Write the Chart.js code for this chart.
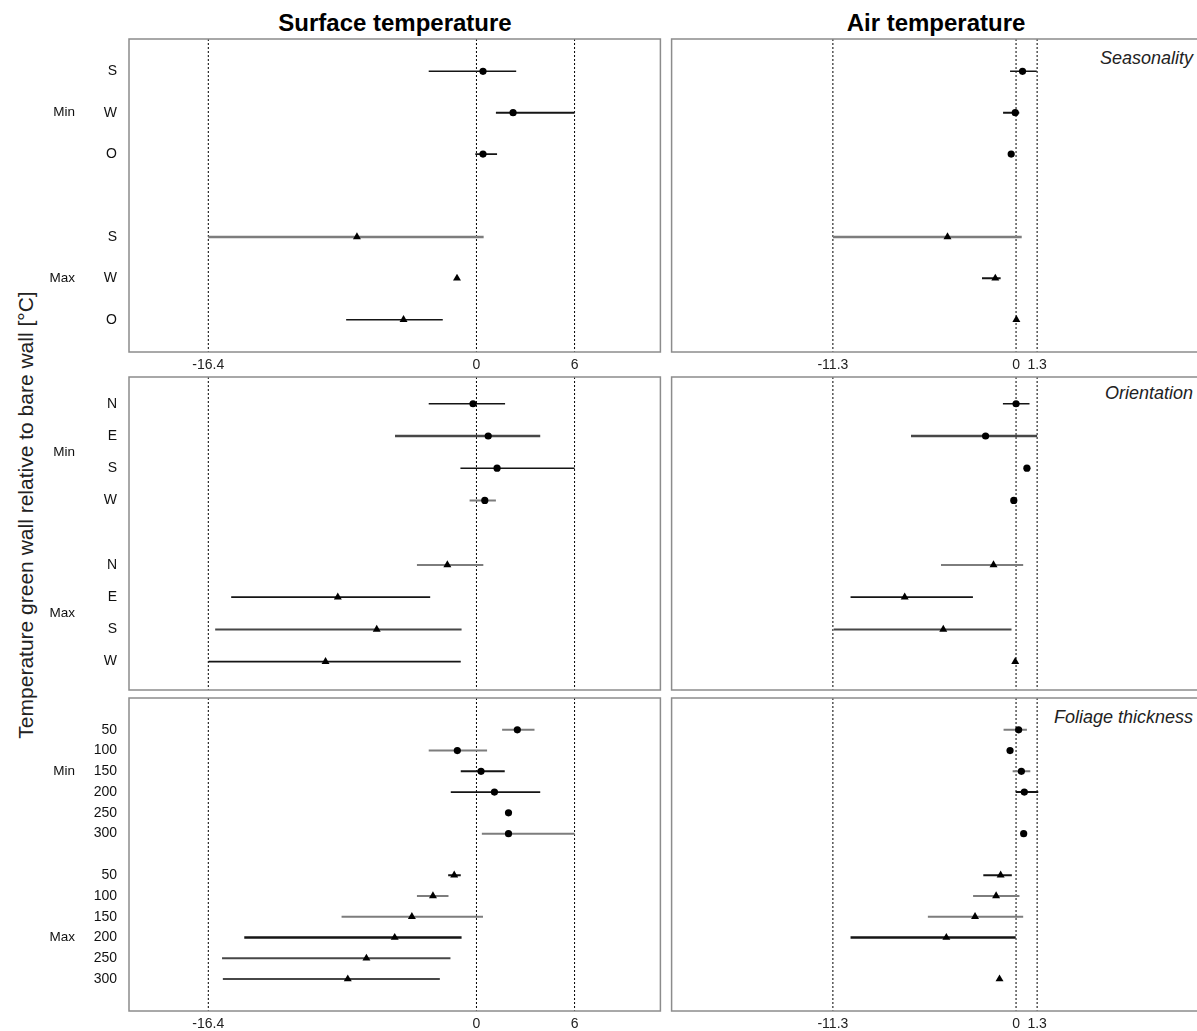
<!DOCTYPE html>
<html><head><meta charset="utf-8">
<script src="https://cdn.jsdelivr.net/npm/chart.js@4.4.0/dist/chart.umd.min.js"></script>
<style>
html,body{margin:0;padding:0;background:#fff;overflow:hidden;width:1197px;height:1031px;}
body{position:relative;font-family:"Liberation Sans",Arial,sans-serif;color:#111;}
canvas{position:absolute;}
.title{position:absolute;font-weight:bold;font-size:24px;line-height:24px;white-space:nowrap;transform:translateX(-50%);color:#000;}
.plab{position:absolute;font-style:italic;font-size:18px;line-height:18px;right:4px;white-space:nowrap;color:#222;}
.ytitle{position:absolute;font-size:21px;line-height:21px;white-space:nowrap;transform:translate(-50%,-50%) rotate(-90deg);color:#222;}
</style></head><body>
<div class="title" style="left:395px;top:11px">Surface temperature</div>
<div class="title" style="left:936px;top:11px">Air temperature</div>
<div class="ytitle" style="left:25px;top:515px">Temperature green wall relative to bare wall [°C]</div>
<div class="plab" style="top:49px">Seasonality</div>
<div class="plab" style="top:384px">Orientation</div>
<div class="plab" style="top:708px">Foliage thickness</div>
<canvas id="c1"></canvas><canvas id="c2"></canvas>
<canvas id="c3"></canvas><canvas id="c4"></canvas>
<canvas id="c5"></canvas><canvas id="c6"></canvas>
<script>
// ---------- data ----------
const groupLabels = ["Min", "Max"];
const surfRefs = [-16.4, 0, 6];
const airRefs = [-11.3, 0, 1.3];

// Seasonality
const seasonLabels = ["S", "W", "O", "S", "W", "O"];
const seasonRows = [1, 2, 3, 5, 6, 7];
const seasonGroupRows = [2, 6];
const surfSeasonEst = [0.40, 2.24, 0.40, -7.31, -1.19, -4.46];
const surfSeasonLo  = [-2.92, 1.19, -0.07, -16.4, null, -7.97];
const surfSeasonHi  = [2.43, 6.0, 1.26, 0.44, null, -2.06];
const airSeasonEst = [0.40, -0.05, -0.30, -4.23, -1.28, 0.02];
const airSeasonLo  = [-0.37, -0.80, null, -11.3, -2.10, null];
const airSeasonHi  = [1.28, 0.20, null, 0.35, -0.95, null];

// Orientation
const orientLabels = ["N", "E", "S", "W", "N", "E", "S", "W"];
const orientRows = [1, 2, 3, 4, 6, 7, 8, 9];
const orientGroupRows = [2.5, 7.5];
const surfOrientEst = [-0.21, 0.72, 1.26, 0.51, -1.78, -8.48, -6.10, -9.23];
const surfOrientLo  = [-2.92, -4.98, -0.98, -0.42, -3.64, -15.0, -15.98, -16.38];
const surfOrientHi  = [1.75, 3.90, 6.0, 1.19, 0.42, -2.83, -0.91, -0.96];
const airOrientEst = [0.00, -1.88, 0.67, -0.14, -1.39, -6.87, -4.49, -0.05];
const airOrientLo  = [-0.81, -6.48, 0.55, null, -4.63, -10.21, -11.25, null];
const airOrientHi  = [0.83, 1.30, 0.88, null, 0.44, -2.66, -0.28, null];

// Foliage thickness
const foliageLabels = ["50", "100", "150", "200", "250", "300", "50", "100", "150", "200", "250", "300"];
const foliageRows = [1, 2, 3, 4, 5, 6, 8, 9, 10, 11, 12, 13];
const foliageGroupRows = [3, 11];
const surfFoliageEst = [2.50, -1.17, 0.28, 1.10, 1.96, 1.96, -1.36, -2.66, -3.95, -5.00, -6.73, -7.87];
const surfFoliageLo  = [1.57, -2.92, -0.96, -1.57, null, 0.33, -1.73, -3.64, -8.25, -14.2, -15.56, -15.51];
const surfFoliageHi  = [3.55, 0.65, 1.73, 3.90, null, 6.0, -0.96, -1.71, 0.40, -0.91, -1.59, -2.24];
const airFoliageEst = [0.16, -0.37, 0.33, 0.51, null, 0.47, -0.95, -1.23, -2.53, -4.30, null, -1.02];
const airFoliageLo  = [-0.77, null, -0.21, -0.02, null, null, -2.02, -2.65, -5.44, -10.21, null, null];
const airFoliageHi  = [0.67, null, 0.88, 1.37, null, null, -0.26, 0.21, 0.44, -0.02, null, null];

// ---------- styles ----------
const toneColor = { k: "#151515", d: "#474747", g: "#7d7d7d" };
const surfSeasonTone = ["k","k","k","g","k","k"], surfSeasonW = [1.6,2,1.6,2.5,1.6,1.6];
const airSeasonTone  = ["k","k","k","g","k","k"], airSeasonW  = [1.6,2,1.6,2.5,2,1.6];
const surfOrientTone = ["k","d","k","g","g","k","d","k"], surfOrientW = [1.6,2.5,1.6,2,2,1.6,2,1.6];
const airOrientTone  = ["k","d","k","k","g","k","d","k"], airOrientW  = [1.6,2.5,1.6,1.6,2,1.6,2,1.6];
const surfFoliageTone = ["g","g","k","k","k","g","k","g","g","k","d","d"], surfFoliageW = [2,2,2,1.6,1.6,2,2,2,2,2.5,1.8,1.8];
const airFoliageTone  = ["g","k","g","k","k","k","k","g","g","k","k","k"], airFoliageW  = [2,1.6,2,2,1.6,1.6,2,2,2,2.5,1.6,1.6];

const FONT = "'Liberation Sans', Arial, sans-serif";
const XMIN = -21.25, XMAX = 11.25;

const boxPlugin = {
  id: "box",
  afterDraw(chart) {
    const a = chart.chartArea, ctx = chart.ctx;
    ctx.save();
    ctx.strokeStyle = "#8c8c8c";
    ctx.lineWidth = 1.5;
    ctx.strokeRect(a.left, a.top, a.right - a.left, a.bottom - a.top);
    ctx.restore();
  }
};

function noPad(s) { s.paddingTop = 0; s.paddingBottom = 0; s.paddingLeft = 0; s.paddingRight = 0; }

function panel(p) {
  const cv = document.getElementById(p.id);
  cv.width = p.w; cv.height = p.h;
  cv.style.left = p.left + "px"; cv.style.top = p.top + "px";
  cv.style.width = p.w + "px"; cv.style.height = p.h + "px";
  const ds = [];
  p.refs.forEach(v => ds.push({
    data: [{ x: v, y: p.ymin }, { x: v, y: p.ymax }], showLine: true,
    borderColor: "#000", borderWidth: 1, borderDash: [2, 2], pointRadius: 0, order: 3
  }));
  p.rows.forEach((r, i) => {
    if (p.lo[i] != null) ds.push({
      data: [{ x: p.lo[i], y: r }, { x: p.hi[i], y: r }], showLine: true,
      borderColor: toneColor[p.tone[i]], borderWidth: p.lw[i], pointRadius: 0, order: 2
    });
  });
  const half = p.rows.length / 2;
  const circ = [], tri = [];
  p.rows.forEach((r, i) => {
    if (p.est[i] == null) return;
    (i < half ? circ : tri).push({ x: p.est[i], y: r });
  });
  ds.push({ data: circ, pointStyle: "circle", pointRadius: 3.6, backgroundColor: "#000", borderWidth: 0, order: 1 });
  ds.push({ data: tri, pointStyle: "triangle", pointRadius: 4.6, backgroundColor: "#000", borderWidth: 0, order: 0 });

  const scales = {
    x: {
      type: "linear", min: XMIN, max: XMAX,
      grid: { display: false, drawTicks: false }, border: { display: false },
      afterBuildTicks: s => { s.ticks = p.refs.map(v => ({ value: v })); },
      afterFit: s => { s.height = 28; noPad(s); },
      ticks: { display: p.showX, autoSkip: false, maxRotation: 0, padding: 5, color: "#222",
               font: { family: FONT, size: 14 }, callback: v => String(v) }
    },
    y: {
      type: "linear", min: p.ymin, max: p.ymax, reverse: true, position: "left", weight: 0,
      display: p.showY,
      grid: { display: false, drawTicks: false }, border: { display: false },
      afterBuildTicks: s => { s.ticks = p.rows.map(v => ({ value: v })); },
      afterFit: s => { s.width = p.showY ? 51 : 0; noPad(s); },
      ticks: { autoSkip: false, padding: 12, color: "#111", font: { family: FONT, size: 14 },
               callback: v => p.labels[p.rows.indexOf(v)] }
    }
  };
  if (p.showY) {
    scales.yg = {
      type: "linear", min: p.ymin, max: p.ymax, reverse: true, position: "left", weight: 1,
      grid: { display: false, drawTicks: false }, border: { display: false },
      afterBuildTicks: s => { s.ticks = p.groupRows.map(v => ({ value: v })); },
      afterFit: s => { s.width = 78; noPad(s); },
      ticks: { autoSkip: false, padding: 3, color: "#111", font: { family: FONT, size: 13.5 },
               callback: v => groupLabels[p.groupRows.indexOf(v)] }
    };
  }
  new Chart(cv, {
    type: "scatter",
    data: { datasets: ds },
    options: {
      responsive: false, animation: false, devicePixelRatio: 1,
      layout: { padding: p.pad },
      plugins: { legend: { display: false }, tooltip: { enabled: false }, title: { display: false } },
      events: [],
      scales
    },
    plugins: [boxPlugin]
  });
}

const PT = [39, 377, 698];
const SHOWX = [true, false, true];
const PH = 313;
function leftPanel(id, row, cfg) {
  panel(Object.assign({ id, left: 0, top: PT[row] - 6, w: 665, h: 6 + PH + 28, showX: SHOWX[row],
    pad: { top: 6, right: 4, left: 0, bottom: 0 }, refs: surfRefs, showY: true }, cfg));
}
function rightPanel(id, row, cfg) {
  panel(Object.assign({ id, left: 667, top: PT[row] - 6, w: 536, h: 6 + PH + 28, showX: SHOWX[row],
    pad: { top: 6, right: 1, left: 4, bottom: 0 }, refs: airRefs, showY: false }, cfg));
}

leftPanel("c1", 0, { rows: seasonRows, labels: seasonLabels, groupRows: seasonGroupRows, ymin: 0.22, ymax: 7.78,
  est: surfSeasonEst, lo: surfSeasonLo, hi: surfSeasonHi, tone: surfSeasonTone, lw: surfSeasonW });
rightPanel("c2", 0, { rows: seasonRows, labels: seasonLabels, groupRows: seasonGroupRows, ymin: 0.22, ymax: 7.78,
  est: airSeasonEst, lo: airSeasonLo, hi: airSeasonHi, tone: airSeasonTone, lw: airSeasonW });
leftPanel("c3", 1, { rows: orientRows, labels: orientLabels, groupRows: orientGroupRows, ymin: 0.17, ymax: 9.88,
  est: surfOrientEst, lo: surfOrientLo, hi: surfOrientHi, tone: surfOrientTone, lw: surfOrientW });
rightPanel("c4", 1, { rows: orientRows, labels: orientLabels, groupRows: orientGroupRows, ymin: 0.17, ymax: 9.88,
  est: airOrientEst, lo: airOrientLo, hi: airOrientHi, tone: airOrientTone, lw: airOrientW });
leftPanel("c5", 2, { rows: foliageRows, labels: foliageLabels, groupRows: foliageGroupRows, ymin: -0.53, ymax: 14.54,
  est: surfFoliageEst, lo: surfFoliageLo, hi: surfFoliageHi, tone: surfFoliageTone, lw: surfFoliageW });
rightPanel("c6", 2, { rows: foliageRows, labels: foliageLabels, groupRows: foliageGroupRows, ymin: -0.53, ymax: 14.54,
  est: airFoliageEst, lo: airFoliageLo, hi: airFoliageHi, tone: airFoliageTone, lw: airFoliageW });
</script>
</body></html>
